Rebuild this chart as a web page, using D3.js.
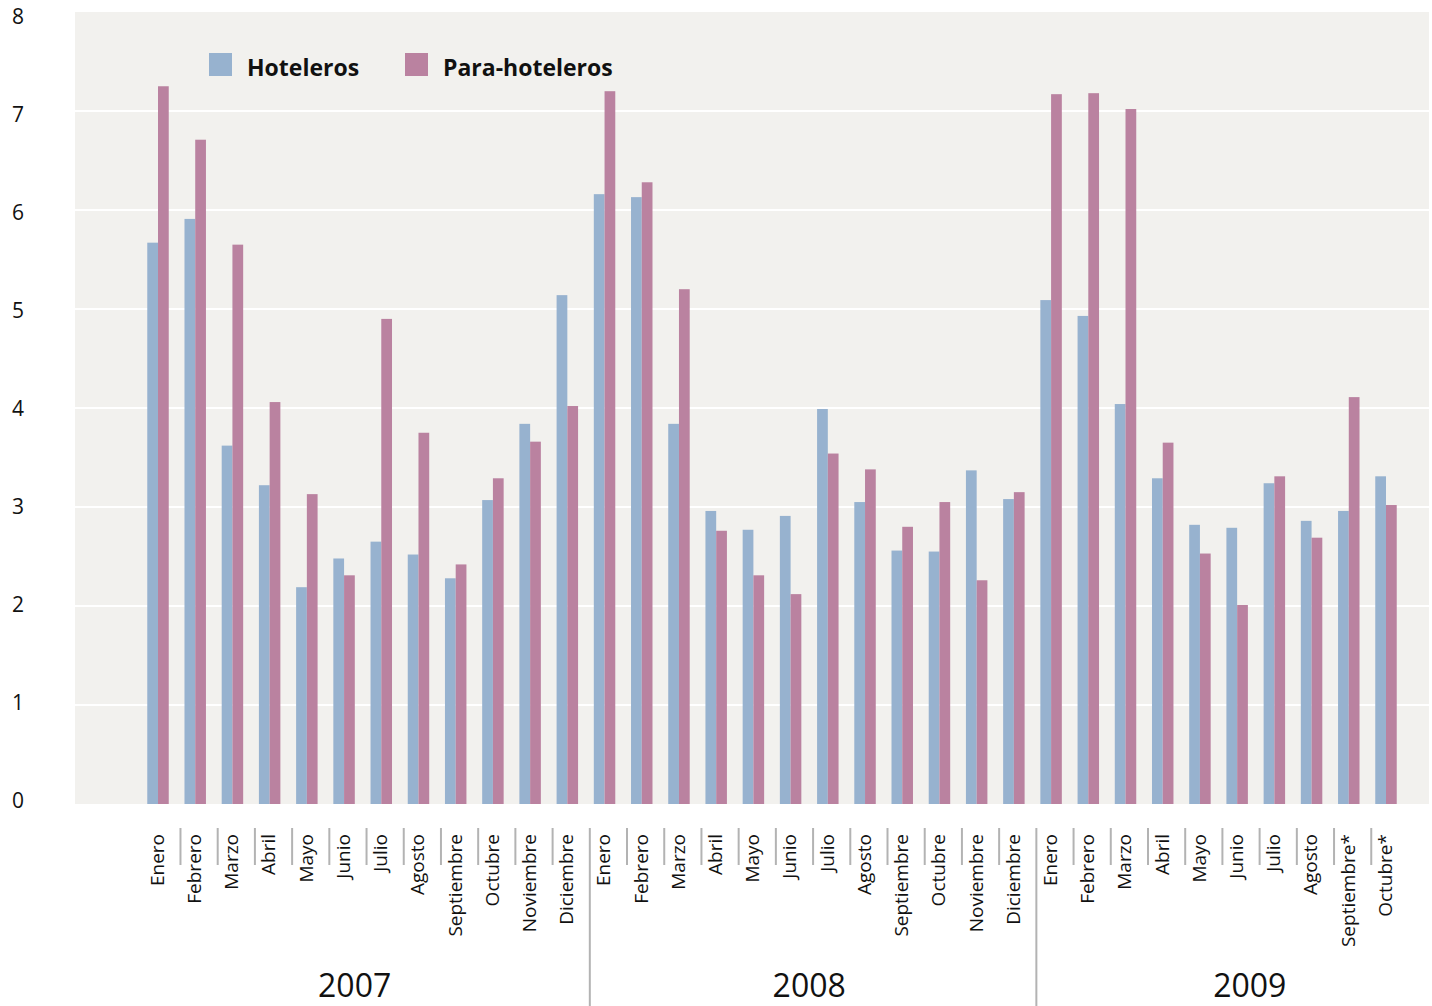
<!DOCTYPE html>
<html>
<head>
<meta charset="utf-8">
<script src="https://cdn.jsdelivr.net/npm/d3@7"></script>
<style>
  html, body { margin: 0; padding: 0; background: #ffffff; }
  svg { display: block; }
</style>
</head>
<body>
<svg id="chart" width="1432" height="1006"></svg>
<script>
// ---- Data ----
const years = ["2007", "2008", "2009"];
const monthsPerYear = [12, 12, 10];
const monthLabels = [
  "Enero","Febrero","Marzo","Abril","Mayo","Junio","Julio","Agosto","Septiembre","Octubre","Noviembre","Diciembre",
  "Enero","Febrero","Marzo","Abril","Mayo","Junio","Julio","Agosto","Septiembre","Octubre","Noviembre","Diciembre",
  "Enero","Febrero","Marzo","Abril","Mayo","Junio","Julio","Agosto","Septiembre*","Octubre*"
];
const hoteleros = [
  5.67, 5.91, 3.62, 3.22, 2.19, 2.48, 2.65, 2.52, 2.28, 3.07, 3.84, 5.14,
  6.16, 6.13, 3.84, 2.96, 2.77, 2.91, 3.99, 3.05, 2.56, 2.55, 3.37, 3.08,
  5.09, 4.93, 4.04, 3.29, 2.82, 2.79, 3.24, 2.86, 2.96, 3.31
];
const paraHoteleros = [
  7.25, 6.71, 5.65, 4.06, 3.13, 2.31, 4.90, 3.75, 2.42, 3.29, 3.66, 4.02,
  7.20, 6.28, 5.20, 2.76, 2.31, 2.12, 3.54, 3.38, 2.80, 3.05, 2.26, 3.15,
  7.17, 7.18, 7.02, 3.65, 2.53, 2.01, 3.31, 2.69, 4.11, 3.02
];
const seriesNames = ["Hoteleros", "Para-hoteleros"];
const seriesColors = ["#97b2cf", "#ba82a0"];
const yTicks = [0, 1, 2, 3, 4, 5, 6, 7, 8];

// ---- Layout ----
const plot = { left: 75, right: 1429, top: 12, bottom: 804 };
const svg = d3.select("#chart");
const FONT = "'Open Sans', 'Noto Sans', sans-serif";

const idx = d3.range(monthLabels.length);
const x = d3.scaleBand()
  .domain(idx)
  .range([139.4, 1404.6])
  .paddingInner(0.423)
  .paddingOuter(0.2115);
const xSub = d3.scaleBand()
  .domain([0, 1])
  .range([0, x.bandwidth()]);
const y = d3.scaleLinear().domain([0, 8]).range([plot.bottom, plot.top]);
// tick labels sit slightly inside the extremes of the plot
const yLabel = d3.scaleLinear().domain([0, 8]).range([800, 16]);

// background
svg.append("rect")
  .attr("x", plot.left).attr("y", plot.top)
  .attr("width", plot.right - plot.left)
  .attr("height", plot.bottom - plot.top)
  .attr("fill", "#f2f1ee");

// gridlines
svg.append("g").selectAll("line")
  .data(yTicks.filter(t => t > 0 && t < 8))
  .join("line")
  .attr("x1", plot.left).attr("x2", plot.right)
  .attr("y1", d => y(d)).attr("y2", d => y(d))
  .attr("stroke", "#ffffff").attr("stroke-width", 2);

// y tick labels
svg.append("g").selectAll("text")
  .data(yTicks)
  .join("text")
  .attr("x", 18)
  .attr("y", d => yLabel(d))
  .attr("dy", "0.36em")
  .attr("text-anchor", "middle")
  .attr("font-family", FONT)
  .attr("font-size", 21)
  .attr("fill", "#111")
  .text(d => d);

// bars
const series = [hoteleros, paraHoteleros];
series.forEach((vals, s) => {
  svg.append("g").selectAll("rect")
    .data(idx)
    .join("rect")
    .attr("x", i => x(i) + xSub(s))
    .attr("width", xSub.bandwidth())
    .attr("y", i => y(vals[i]))
    .attr("height", i => y(0) - y(vals[i]))
    .attr("fill", seriesColors[s]);
});

// legend
const legendX = [209, 405];
seriesNames.forEach((name, s) => {
  const g = svg.append("g").attr("transform", `translate(${legendX[s]},53)`);
  g.append("rect").attr("width", 23).attr("height", 23).attr("fill", seriesColors[s]);
  g.append("text")
    .attr("x", 38).attr("y", 23)
    .attr("font-family", FONT)
    .attr("font-weight", "bold")
    .attr("font-size", 23)
    .attr("fill", "#111")
    .text(name);
});

// month labels
svg.append("g").selectAll("text")
  .data(idx)
  .join("text")
  .attr("transform", i => `translate(${x(i) + x.bandwidth() / 2 - 1},834) rotate(-90)`)
  .attr("dy", "0.36em")
  .attr("text-anchor", "end")
  .attr("font-family", FONT)
  .attr("font-size", 19)
  .attr("fill", "#111")
  .text(i => monthLabels[i]);

// separators
const yearStarts = [];
let acc = 0;
monthsPerYear.forEach(n => { yearStarts.push(acc); acc += n; });
svg.append("g").selectAll("line")
  .data(idx.filter(i => i > 0))
  .join("line")
  .attr("x1", i => x(i) - 4).attr("x2", i => x(i) - 4)
  .attr("y1", 828)
  .attr("y2", i => yearStarts.includes(i) ? 1006 : 865)
  .attr("stroke", "#b3b3b3").attr("stroke-width", 2);

// year labels
const yearNudge = [-8, 0, -6];
years.forEach((yr, k) => {
  const first = yearStarts[k];
  const cx = x(first) + (11 * x.step() + x.bandwidth()) / 2 + yearNudge[k];
  svg.append("text")
    .attr("x", cx).attr("y", 997)
    .attr("text-anchor", "middle")
    .attr("font-family", FONT)
    .attr("font-size", 32)
    .attr("fill", "#111")
    .text(yr);
});
</script>
</body>
</html>
